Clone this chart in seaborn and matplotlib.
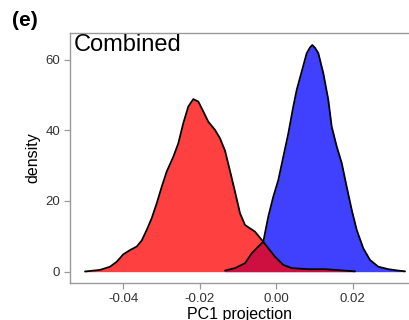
import matplotlib
matplotlib.use("Agg")
import matplotlib.pyplot as plt
import seaborn as sns
import pandas as pd

# Values
red_x = [-0.04993, -0.04601, -0.04340, -0.04165, -0.03992, -0.03817, -0.03642, -0.03511,
         -0.03380, -0.03250, -0.03119, -0.02988, -0.02858, -0.02685, -0.02554, -0.02424,
         -0.02293, -0.02162, -0.02031, -0.01901, -0.01770, -0.01595, -0.01464, -0.01333,
         -0.01203, -0.01072, -0.00941, -0.00810, -0.00549, -0.00374, -0.00201, -0.00026,
         0.00191, 0.00410, 0.00844, 0.01281, 0.01542, 0.01804, 0.02065]
red_d = [0.05, 0.5, 1.4, 2.8, 4.9, 6.1, 7.1, 8.8,
         11.8, 15.1, 19.3, 24.0, 28.3, 32.5, 36.3, 42.0,
         46.7, 48.8, 48.1, 45.3, 42.4, 40.1, 37.7, 34.2,
         28.5, 22.6, 16.5, 13.2, 11.3, 9.0, 6.6, 4.2,
         1.9, 1.0, 0.7, 0.7, 0.5, 0.3, 0.1]

blue_x = [-0.01333, -0.01072, -0.00810, -0.00635, -0.00463, -0.00332, -0.00201, -0.00071,
          0.00060, 0.00191, 0.00322, 0.00452, 0.00541, 0.00672, 0.00803, 0.00889,
          0.00949, 0.01020, 0.01106, 0.01237, 0.01367, 0.01456, 0.01587, 0.01718,
          0.01848, 0.01979, 0.02110, 0.02282, 0.02458, 0.02675, 0.02936, 0.03197, 0.03373]
blue_d = [0.3, 1.0, 2.4, 5.2, 7.1, 8.5, 15.6, 21.2,
          25.9, 32.5, 39.1, 46.7, 51.4, 56.6, 61.8, 63.4,
          64.1, 63.3, 61.8, 56.1, 48.6, 41.0, 35.4, 30.7,
          24.0, 17.5, 11.8, 6.6, 3.3, 1.4, 0.7, 0.3, 0.1]

x_ticks = [-0.04, -0.02, 0.00, 0.02]
x_tick_labels = ["-0.04", "-0.02", "0.00", "0.02"]
y_ticks = [0, 20, 40, 60]

red_df = pd.DataFrame({"x": red_x, "density": red_d})
blue_df = pd.DataFrame({"x": blue_x, "density": blue_d})

sns.set_theme(style="white")
plt.rcParams["font.family"] = ["Liberation Sans", "DejaVu Sans"]

fig = plt.figure(figsize=(4.1, 3.2), dpi=100)
ax = fig.add_axes([70 / 410, 37 / 320, 340 / 410, 250 / 320])

# blue first, red on top (alpha blending gives crimson overlap)
ax.fill_between(blue_df["x"], 0, blue_df["density"], color="#0000ff", alpha=0.75, lw=0)
sns.lineplot(data=blue_df, x="x", y="density", ax=ax, color="black", lw=1.3, sort=False)
ax.fill_between(red_df["x"], 0, red_df["density"], color="#ff0000", alpha=0.75, lw=0)
sns.lineplot(data=red_df, x="x", y="density", ax=ax, color="black", lw=1.3, sort=False)

ax.set_xlim(-0.05386, 0.03503)
ax.set_ylim(-3.2, 67.5)
ax.set_xticks(x_ticks)
ax.set_xticklabels(x_tick_labels)
ax.set_yticks(y_ticks)

for s in ["left", "bottom", "top"]:
    ax.spines[s].set_color("#9a9a9a")
    ax.spines[s].set_linewidth(1.0)
ax.spines["right"].set_visible(False)

ax.tick_params(axis="both", which="both", length=4, width=0.9, color="#9a9a9a",
               labelsize=9.5, labelcolor="#333333", pad=3, bottom=True, left=True)

ax.set_xlabel("PC1 projection", fontsize=11.5, color="black", labelpad=2)
ax.set_ylabel("density", fontsize=11.5, color="black", labelpad=4)

ax.text(0.012, 0.995, "Combined", transform=ax.transAxes, fontsize=17,
        ha="left", va="top", color="black")
fig.text(12 / 410, 1 - 21 / 320, "(e)", fontsize=15, fontweight="bold",
         ha="left", va="center", color="black")

fig.savefig("out.png", dpi=100)
